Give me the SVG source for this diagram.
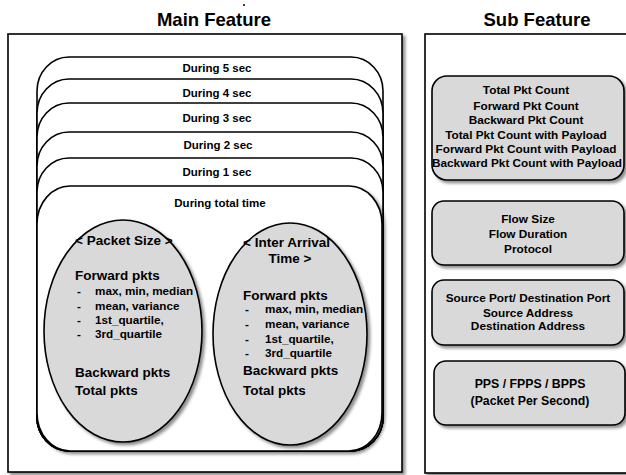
<svg xmlns="http://www.w3.org/2000/svg" width="626" height="475" viewBox="0 0 626 475">
<defs>
<filter id="sh" x="-10%" y="-10%" width="125%" height="125%">
<feDropShadow dx="2.5" dy="2.5" stdDeviation="1.8" flood-color="#000" flood-opacity="0.45"/>
</filter>
<style>
text{font-family:"Liberation Sans",Arial,sans-serif;font-weight:bold;fill:#000}
.title{font-size:18.5px}
.lay{fill:#fff;stroke:#000;stroke-width:1.6}
.lbl{font-size:11.5px;text-anchor:middle}
.ell{fill:#d9d9d9;stroke:#000;stroke-width:1.6;filter:url(#sh)}
.big{font-size:13.5px}
.sm{font-size:11.7px}
.box{fill:#d9d9d9;stroke:#000;stroke-width:1.6;filter:url(#sh)}
.bt{font-size:11.8px;text-anchor:middle}
.frame{fill:#fff;stroke:#000;stroke-width:1.6;filter:url(#sh)}
</style>
</defs>
<rect width="626" height="475" fill="#fff"/>
<circle cx="244" cy="5" r="1" fill="#000"/>
<text class="title" x="214" y="26" text-anchor="middle">Main Feature</text>
<text class="title" x="537" y="26" text-anchor="middle">Sub Feature</text>

<g id="main-frame"><rect class="frame" x="8" y="34" width="394" height="438"/></g>
<g id="sub-frame"><rect class="frame" x="425" y="34" width="210" height="439"/></g>

<g id="during-5"><rect class="lay" x="37" y="57" width="346" height="394" rx="32" ry="34"/><text class="lbl" x="217" y="72">During 5 sec</text></g>
<g id="during-4"><rect class="lay" x="37" y="79" width="346" height="372" rx="32" ry="34"/><text class="lbl" x="217" y="97">During 4 sec</text></g>
<g id="during-3"><rect class="lay" x="37" y="103" width="346" height="348" rx="32" ry="34"/><text class="lbl" x="217" y="122">During 3 sec</text></g>
<g id="during-2"><rect class="lay" x="37" y="132" width="346" height="319" rx="32" ry="34"/><text class="lbl" x="218" y="149">During 2 sec</text></g>
<g id="during-1"><rect class="lay" x="37" y="158" width="346" height="293" rx="32" ry="34"/><text class="lbl" x="217" y="176">During 1 sec</text></g>
<g id="during-total"><rect class="lay" x="37" y="186" width="345" height="265" rx="33" ry="38" filter="url(#sh)"/><text class="lbl" x="220" y="207">During total time</text></g>

<g id="packet-size">
<ellipse class="ell" cx="123" cy="331" rx="79" ry="111"/>
<text class="big" x="75" y="245">&lt; Packet Size &gt;</text>
<text class="big" x="75" y="280">Forward pkts</text>
<text class="sm" x="77" y="295">-</text><text class="sm" x="95" y="295">max, min, median</text>
<text class="sm" x="77" y="310">-</text><text class="sm" x="95" y="310">mean, variance</text>
<text class="sm" x="77" y="324">-</text><text class="sm" x="95" y="324">1st_quartile,</text>
<text class="sm" x="77" y="338">-</text><text class="sm" x="95" y="338">3rd_quartile</text>
<text class="big" x="75" y="377">Backward pkts</text>
<text class="big" x="75" y="395">Total pkts</text>
</g>

<g id="inter-arrival">
<ellipse class="ell" cx="290" cy="334" rx="77" ry="111"/>
<text class="big" x="243" y="247">&lt; Inter Arrival</text>
<text class="big" x="290" y="263" text-anchor="middle">Time &gt;</text>
<text class="big" x="243" y="300">Forward pkts</text>
<text class="sm" x="245" y="313">-</text><text class="sm" x="265" y="313">max, min, median</text>
<text class="sm" x="245" y="328">-</text><text class="sm" x="265" y="328">mean, variance</text>
<text class="sm" x="245" y="343">-</text><text class="sm" x="265" y="343">1st_quartile,</text>
<text class="sm" x="245" y="357">-</text><text class="sm" x="265" y="357">3rd_quartile</text>
<text class="big" x="243" y="375">Backward pkts</text>
<text class="big" x="243" y="395">Total pkts</text>
</g>

<g id="pkt-count">
<rect class="box" x="432" y="76" width="192" height="104" rx="15"/>
<text class="bt" x="526" y="94">Total Pkt Count</text>
<text class="bt" x="526" y="110">Forward Pkt Count</text>
<text class="bt" x="526" y="124">Backward Pkt Count</text>
<text class="bt" x="526" y="139">Total Pkt Count with Payload</text>
<text class="bt" x="526" y="153">Forward Pkt Count with Payload</text>
<text class="bt" x="527" y="167">Backward Pkt Count with Payload</text>
</g>

<g id="flow">
<rect class="box" x="432" y="201" width="192" height="64" rx="12"/>
<text class="bt" x="528" y="223">Flow Size</text>
<text class="bt" x="528" y="238">Flow Duration</text>
<text class="bt" x="528" y="253">Protocol</text>
</g>

<g id="address">
<rect class="box" x="432" y="280" width="192" height="65" rx="12"/>
<text class="bt" x="528" y="302">Source Port/ Destination Port</text>
<text class="bt" x="528" y="317">Source Address</text>
<text class="bt" x="528" y="330">Destination Address</text>
</g>

<g id="pps">
<rect class="box" x="434" y="361" width="191" height="64" rx="12"/>
<text class="bt" x="530" y="388" style="font-size:12.3px">PPS / FPPS / BPPS</text>
<text class="bt" x="530" y="405" style="font-size:12.3px">(Packet Per Second)</text>
</g>

<g id="connectors"></g>
</svg>
